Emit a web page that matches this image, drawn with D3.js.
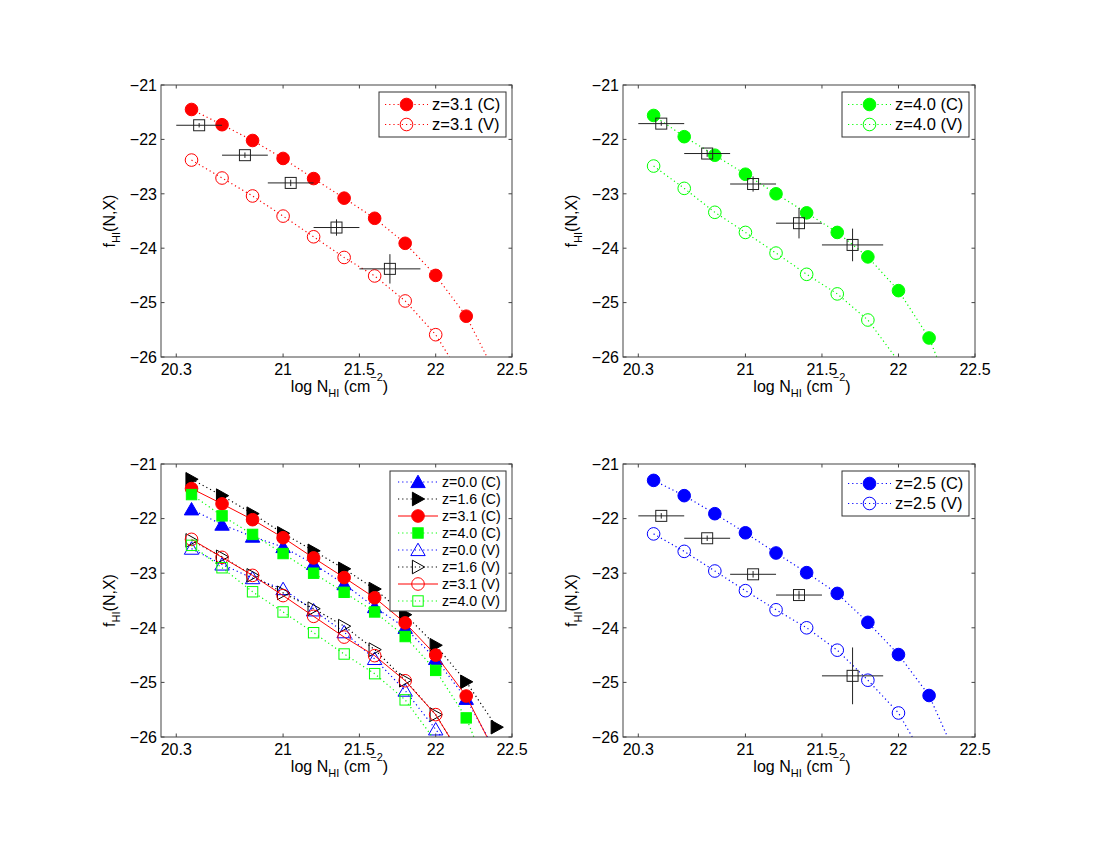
<!DOCTYPE html>
<html>
<head>
<meta charset="utf-8">
<script src="https://cdn.jsdelivr.net/npm/d3@7"></script>
<style>
  body { margin: 0; background: #fff; }
  text { font-family: "Liberation Sans", Arial, Helvetica, sans-serif; fill: #000; }
</style>
</head>
<body>
<svg width="1100" height="850"></svg>
<script>
// bins in log N_HI
const logN = [20.4, 20.6, 20.8, 21.0, 21.2, 21.4, 21.6, 21.8, 22.0, 22.2, 22.4]

// f_HI(N,X) per redshift, C and V
const c00 = [-21.83, -22.11, -22.33, -22.52, -22.83, -23.20, -23.62, -24.00, -24.57, -25.30]
const c16 = [-21.28, -21.58, -21.91, -22.27, -22.59, -22.92, -23.29, -23.76, -24.32, -24.99, -25.82]
const c25 = [-21.30, -21.58, -21.91, -22.26, -22.63, -22.99, -23.37, -23.90, -24.49, -25.24]
const c31 = [-21.45, -21.73, -22.02, -22.35, -22.72, -23.08, -23.45, -23.91, -24.50, -25.25]
const c40 = [-21.56, -21.95, -22.29, -22.64, -23.00, -23.35, -23.71, -24.16, -24.78, -25.65]
const v00 = [-22.55, -22.84, -23.09, -23.29, -23.68, -24.08, -24.57, -25.15, -25.86]
const v16 = [-22.40, -22.70, -23.04, -23.36, -23.65, -23.97, -24.40, -24.96, -25.59]
const v25 = [-22.28, -22.60, -22.96, -23.32, -23.67, -24.00, -24.41, -24.96, -25.56]
const v31 = [-22.38, -22.71, -23.04, -23.41, -23.79, -24.17, -24.51, -24.97, -25.59]
const v40 = [-22.49, -22.90, -23.34, -23.71, -24.09, -24.48, -24.84, -25.32]

// where each curve runs on after its last point (line only, no marker)
const tails = {
  c00: -26.3, c16: -26.7, c25: -26.5, c31: -26.35, c40: -27.05,
  v00: -26.6, v16: -26.5, v25: -26.54, v31: -26.5, v40: -26.08
}

// measured points (squares with error bars)
const obsN = [20.45, 20.75, 21.05, 21.35, 21.7]
const obsLo = [20.3, 20.6, 20.9, 21.2, 21.5]
const obsHi = [20.6, 20.9, 21.2, 21.5, 21.9]
const obs31 = [-21.74, -22.29, -22.80, -23.62, -24.38]
const err31 = [0.04, 0.05, 0.06, 0.15, 0.27]
const obs40 = [-21.71, -22.26, -22.82, -23.54, -23.94]
const err40 = [0.04, 0.06, 0.14, 0.28, 0.30]
const obs25 = [-21.95, -22.36, -23.02, -23.40, -24.88]
const err25 = [0.05, 0.05, 0.06, 0.08, 0.52]

const xTicks = [20.3, 21, 21.5, 22, 22.5]
const xTickLabels = ['20.3', '21', '21.5', '22', '22.5']
const yTicks = [-26, -25, -24, -23, -22, -21]

const RED = '#ff0000', GREEN = '#00ff00', BLUE = '#0000ff', BLACK = '#000000'

function s(label, vals, tail, color, shape, filled, solid) {
  return { label, vals, tail, color, shape, filled, solid }
}

const panels = [
  { x: 161, y: 85, w: 351, h: 272, legendW: 127, font: 16.5,
    series: [
      s('z=3.1 (C)', c31, tails.c31, RED, 'o', true, false),
      s('z=3.1 (V)', v31, tails.v31, RED, 'o', false, false)],
    obs: obs31, err: err31 },
  { x: 623, y: 85, w: 352, h: 272, legendW: 127, font: 16.5,
    series: [
      s('z=4.0 (C)', c40, tails.c40, GREEN, 'o', true, false),
      s('z=4.0 (V)', v40, tails.v40, GREEN, 'o', false, false)],
    obs: obs40, err: err40 },
  { x: 161, y: 464, w: 351, h: 273, legendW: 116, font: 14.2,
    series: [
      s('z=0.0 (C)', c00, tails.c00, BLUE, '^', true, false),
      s('z=1.6 (C)', c16, tails.c16, BLACK, '>', true, false),
      s('z=3.1 (C)', c31, tails.c31, RED, 'o', true, true),
      s('z=4.0 (C)', c40, tails.c40, GREEN, 's', true, false),
      s('z=0.0 (V)', v00, tails.v00, BLUE, '^', false, false),
      s('z=1.6 (V)', v16, tails.v16, BLACK, '>', false, false),
      s('z=3.1 (V)', v31, tails.v31, RED, 'o', false, true),
      s('z=4.0 (V)', v40, tails.v40, GREEN, 's', false, false)],
    obs: null },
  { x: 623, y: 464, w: 352, h: 273, legendW: 127, font: 16.5,
    series: [
      s('z=2.5 (C)', c25, tails.c25, BLUE, 'o', true, false),
      s('z=2.5 (V)', v25, tails.v25, BLUE, 'o', false, false)],
    obs: obs25, err: err25 }
]

const svg = d3.select('svg')

function drawMarker(g, shape, color, filled, cx, cy) {
  const fill = filled ? color : 'none'
  let el
  if (shape === 'o') {
    el = g.append('circle').attr('cx', cx).attr('cy', cy).attr('r', 6.3)
  } else if (shape === 's') {
    el = g.append('rect').attr('x', cx - 5.2).attr('y', cy - 5.2).attr('width', 10.4).attr('height', 10.4)
  } else if (shape === '^') {
    el = g.append('path').attr('d', `M${cx},${cy - 6.8}L${cx + 7.2},${cy + 5.6}L${cx - 7.2},${cy + 5.6}Z`)
  } else if (shape === '>') {
    el = g.append('path').attr('d', `M${cx + 6.6},${cy}L${cx - 5.6},${cy - 6.8}L${cx - 5.6},${cy + 6.8}Z`)
  }
  el.attr('fill', fill).attr('stroke', color).attr('stroke-width', 1)
}

panels.forEach((p, pi) => {
  const x = d3.scaleLinear().domain([20.2, 22.5]).range([p.x, p.x + p.w])
  const y = d3.scaleLinear().domain([-26, -21]).range([p.y + p.h, p.y])
  const g = svg.append('g')

  svg.append('clipPath').attr('id', 'clip' + pi)
    .append('rect').attr('x', p.x).attr('y', p.y).attr('width', p.w).attr('height', p.h)

  const plot = g.append('g').attr('clip-path', `url(#clip${pi})`)

  // curves and markers
  p.series.forEach(se => {
    const pts = se.vals.map((v, i) => [logN[i], v])
    pts.push([logN[se.vals.length], se.tail])
    plot.append('path')
      .attr('d', d3.line().x(d => x(d[0])).y(d => y(d[1]))(pts))
      .attr('fill', 'none')
      .attr('stroke', se.color)
      .attr('stroke-width', se.solid ? 1 : 1.2)
      .attr('stroke-dasharray', se.solid ? null : '1.2 3')
    se.vals.forEach((v, i) => drawMarker(plot, se.shape, se.color, se.filled, x(logN[i]), y(v)))
  })

  // measured points
  if (p.obs) {
    const og = plot.append('g').attr('stroke', '#222').attr('stroke-width', 1).attr('fill', 'none')
    p.obs.forEach((v, i) => {
      og.append('line').attr('x1', x(obsLo[i])).attr('x2', x(obsHi[i]))
        .attr('y1', y(v)).attr('y2', y(v))
      og.append('line').attr('x1', x(obsN[i])).attr('x2', x(obsN[i]))
        .attr('y1', y(v - p.err[i])).attr('y2', y(v + p.err[i]))
      og.append('rect').attr('x', x(obsN[i]) - 5.5).attr('y', y(v) - 5.5)
        .attr('width', 11).attr('height', 11)
    })
  }

  // box and inward ticks on all sides
  const axisCol = '#444'
  g.append('rect').attr('x', p.x).attr('y', p.y).attr('width', p.w).attr('height', p.h)
    .attr('fill', 'none').attr('stroke', axisCol).attr('stroke-width', 1)
  const tl = 3.5
  xTicks.forEach((t, i) => {
    const xx = x(t)
    g.append('line').attr('x1', xx).attr('x2', xx).attr('y1', p.y + p.h).attr('y2', p.y + p.h - tl).attr('stroke', axisCol)
    g.append('line').attr('x1', xx).attr('x2', xx).attr('y1', p.y).attr('y2', p.y + tl).attr('stroke', axisCol)
    g.append('text').attr('x', xx).attr('y', p.y + p.h + 18)
      .attr('text-anchor', 'middle').attr('font-size', 16).text(xTickLabels[i])
  })
  yTicks.forEach(t => {
    const yy = y(t)
    g.append('line').attr('x1', p.x).attr('x2', p.x + tl).attr('y1', yy).attr('y2', yy).attr('stroke', axisCol)
    g.append('line').attr('x1', p.x + p.w).attr('x2', p.x + p.w - tl).attr('y1', yy).attr('y2', yy).attr('stroke', axisCol)
    g.append('text').attr('x', p.x - 4).attr('y', yy).attr('dy', '0.36em')
      .attr('text-anchor', 'end').attr('font-size', 16).text('\u2212' + Math.abs(t))
  })

  // axis labels
  const xl = g.append('text').attr('x', p.x + p.w / 2 + 3).attr('y', p.y + p.h + 35)
    .attr('text-anchor', 'middle').attr('font-size', 16)
  xl.append('tspan').text('log N')
  xl.append('tspan').attr('font-size', 11).attr('dy', 5).text('HI')
  xl.append('tspan').attr('dy', -5).text(' (cm')
  xl.append('tspan').attr('font-size', 11).attr('dy', -11).text('\u22122')
  xl.append('tspan').attr('dy', 11).text(')')

  const yl = g.append('text')
    .attr('transform', `translate(${p.x - 46},${p.y + p.h / 2}) rotate(-90)`)
    .attr('text-anchor', 'middle').attr('font-size', 16)
  yl.append('tspan').text('f')
  yl.append('tspan').attr('font-size', 11).attr('dy', 5).text('HI')
  yl.append('tspan').attr('dy', -5).text('(N,X)')

  // legend
  const n = p.series.length
  const rowH = n > 2 ? 17 : 20
  const lx = p.x + p.w - 6 - p.legendW
  const ly = p.y + 7
  const lh = n > 2 ? 140 : 45
  const lg = g.append('g')
  lg.append('rect').attr('x', lx).attr('y', ly).attr('width', p.legendW).attr('height', lh)
    .attr('fill', '#fff').attr('stroke', '#333').attr('stroke-width', 1)
  const sx = n > 2 ? 8 : 6, sw = n > 2 ? 40 : 43
  p.series.forEach((se, i) => {
    const ry = ly + (n > 2 ? 11 : 12.5) + i * rowH
    lg.append('line').attr('x1', lx + sx).attr('x2', lx + sx + sw).attr('y1', ry).attr('y2', ry)
      .attr('stroke', se.color).attr('stroke-width', se.solid ? 1 : 1.2)
      .attr('stroke-dasharray', se.solid ? null : '1.2 3')
    drawMarker(lg, se.shape, se.color, se.filled, lx + sx + sw / 2, ry)
    lg.append('text').attr('x', lx + sx + sw + 4).attr('y', ry).attr('dy', '0.36em')
      .attr('font-size', p.font).text(se.label)
  })
})
</script>
</body>
</html>
